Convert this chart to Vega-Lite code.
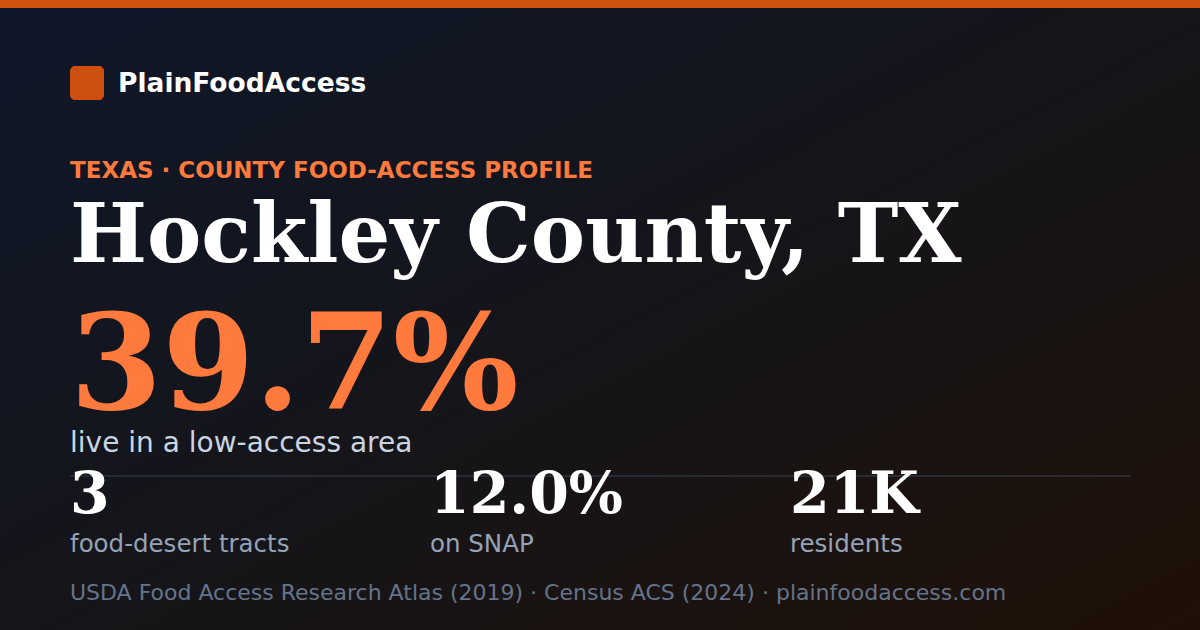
{
  "$schema": "https://vega.github.io/schema/vega-lite/v6.json",
  "description": "Food-access profile card for Hockley County, TX.",
  "width": 1200,
  "height": 630,
  "autosize": {"type": "fit", "contains": "padding"},
  "padding": 0,
  "background": "#121419",
  "datasets": {
    "card": [
      {"role": "brand", "text": "PlainFoodAccess"},
      {"role": "kicker", "text": "TEXAS · COUNTY FOOD-ACCESS PROFILE"},
      {"role": "title", "text": "Hockley County, TX"},
      {"role": "headline", "text": "39.7%"},
      {"role": "subhead", "text": "live in a low-access area"},
      {"role": "footer", "text": "USDA Food Access Research Atlas (2019) · Census ACS (2024) · plainfoodaccess.com"}
    ],
    "stats": [
      {"metric": "tracts", "value": "3", "label": "food-desert tracts"},
      {"metric": "snap", "value": "12.0%", "label": "on SNAP"},
      {"metric": "residents", "value": "21K", "label": "residents"}
    ]
  },
  "data": {"name": "card"},
  "layer": [
    {
      "mark": {
        "type": "rect",
        "color": {
          "gradient": "linear",
          "x1": 0, "y1": 0, "x2": 1, "y2": 1,
          "stops": [
            {"offset": 0, "color": "#0f172a"},
            {"offset": 0.5, "color": "#15151a"},
            {"offset": 1, "color": "#1f1007"}
          ]
        }
      },
      "encoding": {
        "x": {"datum": 0, "type": "quantitative", "scale": {"domain": [0, 1200], "nice": false, "zero": false}},
        "x2": {"datum": 1200},
        "y": {"datum": 0, "type": "quantitative", "scale": {"domain": [0, 630], "reverse": true, "nice": false, "zero": false}},
        "y2": {"datum": 630}
      }
    },
    {
      "mark": {"type": "rect", "color": "#d0520f"},
      "encoding": {
        "x": {"datum": 0}, "x2": {"datum": 1200},
        "y": {"datum": 0}, "y2": {"datum": 8}
      }
    },
    {
      "mark": {"type": "rect", "color": "#cd500e", "cornerRadius": 6},
      "encoding": {
        "x": {"datum": 70}, "x2": {"datum": 104},
        "y": {"datum": 66}, "y2": {"datum": 100}
      }
    },
    {
      "transform": [{"filter": "datum.role == 'brand'"}],
      "mark": {"type": "text", "align": "left", "baseline": "alphabetic", "font": "DejaVu Sans", "fontWeight": "bold", "fontSize": 26.5, "color": "#ffffff"},
      "encoding": {"x": {"datum": 118}, "y": {"datum": 92}, "text": {"field": "text"}}
    },
    {
      "transform": [{"filter": "datum.role == 'kicker'"}],
      "mark": {"type": "text", "align": "left", "baseline": "alphabetic", "font": "DejaVu Sans", "fontWeight": "bold", "fontSize": 23, "color": "#ff7a3c"},
      "encoding": {"x": {"datum": 70}, "y": {"datum": 178}, "text": {"field": "text"}}
    },
    {
      "transform": [{"filter": "datum.role == 'title'"}],
      "mark": {"type": "text", "align": "left", "baseline": "alphabetic", "font": "DejaVu Serif", "fontWeight": "bold", "fontSize": 81.5, "color": "#ffffff"},
      "encoding": {"x": {"datum": 70}, "y": {"datum": 262}, "text": {"field": "text"}}
    },
    {
      "transform": [{"filter": "datum.role == 'headline'"}],
      "mark": {"type": "text", "align": "left", "baseline": "alphabetic", "font": "DejaVu Serif", "fontWeight": "bold", "fontSize": 132.5, "color": "#ff7a3c"},
      "encoding": {"x": {"datum": 70}, "y": {"datum": 409}, "text": {"field": "text"}}
    },
    {
      "transform": [{"filter": "datum.role == 'subhead'"}],
      "mark": {"type": "text", "align": "left", "baseline": "alphabetic", "font": "DejaVu Sans", "fontSize": 28, "color": "#cbd5e1"},
      "encoding": {"x": {"datum": 70}, "y": {"datum": 452}, "text": {"field": "text"}}
    },
    {
      "mark": {"type": "rule", "color": "#272b34", "strokeWidth": 2},
      "encoding": {"x": {"datum": 70}, "x2": {"datum": 1130}, "y": {"datum": 476}}
    },
    {
      "data": {"name": "stats"},
      "transform": [{"filter": "datum.metric == 'tracts'"}],
      "layer": [
        {
          "mark": {"type": "text", "align": "left", "baseline": "alphabetic", "font": "DejaVu Serif", "fontWeight": "bold", "fontSize": 57, "color": "#ffffff"},
          "encoding": {"x": {"datum": 70}, "y": {"datum": 513}, "text": {"field": "value"}}
        },
        {
          "mark": {"type": "text", "align": "left", "baseline": "alphabetic", "font": "DejaVu Sans", "fontSize": 24.5, "color": "#94a3b8"},
          "encoding": {"x": {"datum": 70}, "y": {"datum": 552}, "text": {"field": "label"}}
        }
      ]
    },
    {
      "data": {"name": "stats"},
      "transform": [{"filter": "datum.metric == 'snap'"}],
      "layer": [
        {
          "mark": {"type": "text", "align": "left", "baseline": "alphabetic", "font": "DejaVu Serif", "fontWeight": "bold", "fontSize": 57, "color": "#ffffff"},
          "encoding": {"x": {"datum": 430}, "y": {"datum": 513}, "text": {"field": "value"}}
        },
        {
          "mark": {"type": "text", "align": "left", "baseline": "alphabetic", "font": "DejaVu Sans", "fontSize": 24.5, "color": "#94a3b8"},
          "encoding": {"x": {"datum": 430}, "y": {"datum": 552}, "text": {"field": "label"}}
        }
      ]
    },
    {
      "data": {"name": "stats"},
      "transform": [{"filter": "datum.metric == 'residents'"}],
      "layer": [
        {
          "mark": {"type": "text", "align": "left", "baseline": "alphabetic", "font": "DejaVu Serif", "fontWeight": "bold", "fontSize": 57, "color": "#ffffff"},
          "encoding": {"x": {"datum": 790}, "y": {"datum": 513}, "text": {"field": "value"}}
        },
        {
          "mark": {"type": "text", "align": "left", "baseline": "alphabetic", "font": "DejaVu Sans", "fontSize": 24.5, "color": "#94a3b8"},
          "encoding": {"x": {"datum": 790}, "y": {"datum": 552}, "text": {"field": "label"}}
        }
      ]
    },
    {
      "transform": [{"filter": "datum.role == 'footer'"}],
      "mark": {"type": "text", "align": "left", "baseline": "alphabetic", "font": "DejaVu Sans", "fontSize": 22, "color": "#64748b"},
      "encoding": {"x": {"datum": 70}, "y": {"datum": 600}, "text": {"field": "text"}}
    }
  ],
  "config": {
    "view": {"stroke": null},
    "axis": {"disable": true}
  }
}
